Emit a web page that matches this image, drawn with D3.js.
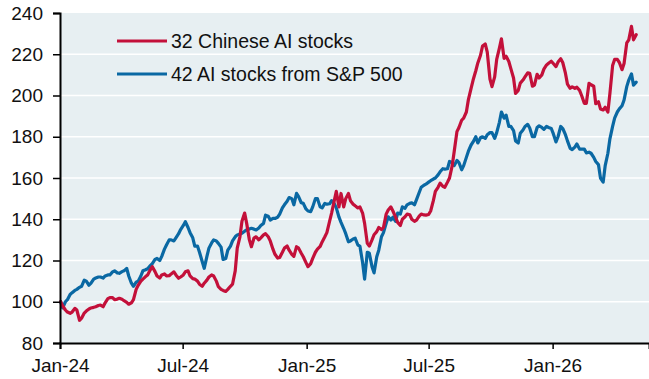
<!DOCTYPE html>
<html>
<head>
<meta charset="utf-8">
<script src="https://cdn.jsdelivr.net/npm/d3@7/dist/d3.min.js"></script>
<style>
  html, body { margin: 0; padding: 0; background: #ffffff; }
  svg { display: block; }
  text { font-family: "Liberation Sans", Arial, sans-serif; fill: #111; }
</style>
</head>
<body>
<svg id="chart" width="649" height="379"></svg>
<script>
// Twice-weekly closes (Tuesdays and Fridays), indexed to 100 on 2 Jan 2024
const dates = [
  "2024-01-02","2024-01-05","2024-01-09","2024-01-12","2024-01-16","2024-01-19","2024-01-23","2024-01-26",
  "2024-01-30","2024-02-02","2024-02-06","2024-02-09","2024-02-13","2024-02-16","2024-02-20","2024-02-23",
  "2024-02-27","2024-03-01","2024-03-05","2024-03-08","2024-03-12","2024-03-15","2024-03-19","2024-03-22",
  "2024-03-26","2024-03-29","2024-04-02","2024-04-05","2024-04-09","2024-04-12","2024-04-16","2024-04-19",
  "2024-04-23","2024-04-26","2024-04-30","2024-05-03","2024-05-07","2024-05-10","2024-05-14","2024-05-17",
  "2024-05-21","2024-05-24","2024-05-28","2024-05-31","2024-06-04","2024-06-07","2024-06-11","2024-06-14",
  "2024-06-18","2024-06-21","2024-06-25","2024-06-28","2024-07-02","2024-07-05","2024-07-09","2024-07-12",
  "2024-07-16","2024-07-19","2024-07-23","2024-07-26","2024-07-30","2024-08-02","2024-08-06","2024-08-09",
  "2024-08-13","2024-08-16","2024-08-20","2024-08-23","2024-08-27","2024-08-30","2024-09-03","2024-09-06",
  "2024-09-10","2024-09-13","2024-09-17","2024-09-20","2024-09-24","2024-09-27","2024-10-01","2024-10-04",
  "2024-10-08","2024-10-11","2024-10-15","2024-10-18","2024-10-22","2024-10-25","2024-10-29","2024-11-01",
  "2024-11-05","2024-11-08","2024-11-12","2024-11-15","2024-11-19","2024-11-22","2024-11-26","2024-11-29",
  "2024-12-03","2024-12-06","2024-12-10","2024-12-13","2024-12-17","2024-12-20","2024-12-24","2024-12-27",
  "2024-12-31","2025-01-03","2025-01-07","2025-01-10","2025-01-14","2025-01-17","2025-01-21","2025-01-24",
  "2025-01-28","2025-01-31","2025-02-04","2025-02-07","2025-02-11","2025-02-14","2025-02-18","2025-02-21",
  "2025-02-25","2025-02-28","2025-03-04","2025-03-07","2025-03-11","2025-03-14","2025-03-18","2025-03-21",
  "2025-03-25","2025-03-28","2025-04-01","2025-04-04","2025-04-08","2025-04-11","2025-04-15","2025-04-18",
  "2025-04-22","2025-04-25","2025-04-29","2025-05-02","2025-05-06","2025-05-09","2025-05-13","2025-05-16",
  "2025-05-20","2025-05-23","2025-05-27","2025-05-30","2025-06-03","2025-06-06","2025-06-10","2025-06-13",
  "2025-06-17","2025-06-20","2025-06-24","2025-06-27","2025-07-01","2025-07-04","2025-07-08","2025-07-11",
  "2025-07-15","2025-07-18","2025-07-22","2025-07-25","2025-07-29","2025-08-01","2025-08-05","2025-08-08",
  "2025-08-12","2025-08-15","2025-08-19","2025-08-22","2025-08-26","2025-08-29","2025-09-02","2025-09-05",
  "2025-09-09","2025-09-12","2025-09-16","2025-09-19","2025-09-23","2025-09-26","2025-09-30","2025-10-03",
  "2025-10-07","2025-10-10","2025-10-14","2025-10-17","2025-10-21","2025-10-24","2025-10-28","2025-10-31",
  "2025-11-04","2025-11-07","2025-11-11","2025-11-14","2025-11-18","2025-11-21","2025-11-25","2025-11-28",
  "2025-12-02","2025-12-05","2025-12-09","2025-12-12","2025-12-16","2025-12-19","2025-12-23","2025-12-26",
  "2025-12-30","2026-01-02","2026-01-06","2026-01-09","2026-01-13","2026-01-16","2026-01-20","2026-01-23",
  "2026-01-27","2026-01-30","2026-02-03","2026-02-06","2026-02-10","2026-02-13","2026-02-17","2026-02-20",
  "2026-02-24","2026-02-27","2026-03-03","2026-03-06","2026-03-10","2026-03-13","2026-03-17","2026-03-20",
  "2026-03-24","2026-03-27","2026-03-31","2026-04-03","2026-04-07","2026-04-10","2026-04-14","2026-04-17",
  "2026-04-21","2026-04-24","2026-04-28","2026-05-01","2026-05-05"
];

const chinaAI = [
  100, 98, 96, 95, 94.4, 95, 96.8, 96,
  91, 92, 94.5, 95.5, 96.5, 97, 97.3, 97.6,
  98.2, 98.4, 97.6, 99.5, 101.5, 102, 102, 101,
  101.3, 101.7, 101.2, 100.5, 99.7, 98.8, 99.5, 101,
  106, 108, 110, 111, 112.2, 113, 115.5, 117,
  114.6, 112.5, 111.5, 113, 113.5, 112.5, 112.6, 113.5,
  114.5, 113, 111.4, 112, 113, 114.5, 115, 112.5,
  111.2, 111, 110, 108.5, 107.5, 109, 110.5, 112,
  113, 112.5, 110, 107.3, 106, 105.5, 105, 106,
  107.5, 108.5, 115, 126, 131.5, 139, 143, 138,
  130, 126.7, 131, 131.5, 130, 131, 132.4, 133,
  131.5, 129.5, 125.5, 123, 121.2, 121.5, 124, 126,
  127, 125, 123, 122, 126.7, 126, 123.5, 121.8,
  119, 117, 118.5, 121, 124, 125.5, 126.8, 129,
  131.5, 133.5, 139, 143, 149, 153.5, 146, 152.5,
  146, 150, 152.5, 149, 147.3, 146.5, 145.5, 146,
  143, 138, 128.3, 127, 130, 132.5, 134, 136,
  135, 136, 142.5, 144.5, 146, 144, 141, 138.5,
  137, 140, 141.2, 142.5, 142.2, 140, 139, 139.6,
  141.5, 142.5, 142.1, 142, 142.3, 144, 149, 153.5,
  155.5, 157.5, 156, 155.5, 158, 160, 166, 173,
  182.5, 184.5, 188, 189, 192, 198, 203.5, 207.5,
  212, 215.8, 219.5, 224, 225, 221, 208, 204.3,
  209, 217.5, 223, 227.5, 218, 219, 216.5, 213,
  208.5, 201, 202.5, 206, 207.5, 209, 211, 210.8,
  204.5, 205, 210.3, 208.5, 210, 212.8, 214.8, 215.6,
  216.6, 215.5, 214, 216.2, 217.8, 216, 210.8, 205.5,
  203.5, 204.2, 203.5, 204, 202.5, 200, 196.2, 196.2,
  205.9, 205.2, 204.5, 196, 197, 193.5, 193, 194.3,
  192, 201, 214.5, 217.5, 217.5, 216, 212.5, 215.5,
  225.5, 227, 233.5, 227, 229.5
];

const spAI = [
  100, 97, 100, 101, 103.5, 104.4, 105.5, 106,
  107, 107.5, 110.5, 110, 108, 109, 111, 111.5,
  112, 112, 111.5, 112.5, 113, 113, 114.5, 115,
  114, 113.8, 114.6, 115, 116.2, 112.5, 109, 107.5,
  109.5, 110, 112.5, 115, 115.5, 116, 117.5, 118.5,
  120.5, 121, 120, 122, 125.5, 127.5, 130, 130,
  129.5, 131, 133, 135, 137, 138.8, 136, 133.5,
  131, 127, 127, 124, 119.5, 116.2, 122, 126,
  128.5, 130, 129.5, 128.3, 126.5, 120.5, 121, 125,
  127, 129.5, 131.5, 132.4, 132.8, 133.2, 134.2, 134.8,
  135.3, 135.6, 135.2, 134.8, 135.8, 137, 138, 142,
  141.5, 139.6, 140.4, 140.4, 141, 142.5, 145.5, 147,
  148.7, 150.5, 150, 147, 152.6, 151, 148, 147.7,
  145, 144, 143.7, 146, 150, 150, 146, 145.5,
  147.7, 147.3, 147.5, 149, 147.5, 145.5, 141, 138.5,
  135.5, 133, 129.1, 129.5, 130.4, 130.8, 127.5, 127,
  119, 111, 124, 123.5, 117, 114, 121.8, 125,
  131.5, 133.5, 138, 141.2, 139.6, 141, 139, 143,
  142.5, 146, 145.3, 147, 147.7, 148, 147, 149.5,
  153, 155.5, 156.5, 157, 158, 158.7, 159.5, 160,
  161.5, 163, 164.5, 164.3, 164.5, 168, 167.5, 166,
  168.5, 167.5, 164, 166, 170, 173, 176, 177.5,
  180, 177, 179.5, 180, 179.2, 181, 182, 182,
  179.2, 182, 187, 192, 189, 190.5, 185, 185,
  183, 178, 177, 181.7, 183.3, 185, 186, 184.2,
  180, 180, 184.5, 185.3, 184.5, 183.6, 185, 184.5,
  184, 181.5, 177.5, 180, 185, 184, 181, 178,
  174.4, 173.8, 175, 176.5, 174, 174, 174, 172.2,
  172.5, 172, 170, 168, 166.5, 160, 158, 166,
  172, 179, 185, 189, 192, 193.5, 195, 197.8,
  204.3, 207.5, 210.5, 205, 206.5
];

const seriesNames = ["32 Chinese AI stocks", "42 AI stocks from S&P 500"];
const seriesColors = ["#c3103a", "#0a68a3"];

const yTicks = [80, 100, 120, 140, 160, 180, 200, 220, 240];
const xTickDates = ["2024-01-01", "2024-07-01", "2025-01-01", "2025-07-01", "2026-01-01"];
const xTickLabels = ["Jan-24", "Jul-24", "Jan-25", "Jul-25", "Jan-26"];

const parse = d3.timeParse("%Y-%m-%d");
const svg = d3.select("#chart");

const plot = { left: 60, right: 649, top: 13, bottom: 343 };

const x = d3.scaleTime()
  .domain([parse("2024-01-01"), parse("2026-05-24")])
  .range([plot.left, plot.right]);

const y = d3.scaleLinear()
  .domain([80, 240])
  .range([plot.bottom, plot.top]);

// plot background
svg.append("rect")
  .attr("x", plot.left).attr("y", plot.top)
  .attr("width", plot.right - plot.left)
  .attr("height", plot.bottom - plot.top)
  .attr("fill", "#e7eff2");

// horizontal gridlines
svg.append("g")
  .selectAll("line")
  .data(yTicks.filter(v => v > 80 && v < 240))
  .join("line")
  .attr("x1", plot.left).attr("x2", plot.right)
  .attr("y1", d => y(d)).attr("y2", d => y(d))
  .attr("stroke", "#ffffff")
  .attr("stroke-width", 1.6);

// series lines
const series = [chinaAI, spAI];
const line = d3.line()
  .x((d, i) => x(parse(dates[i])))
  .y(d => y(d));

// S&P drawn first, Chinese on top where they cross
[1, 0].forEach(k => {
  svg.append("path")
    .datum(series[k])
    .attr("fill", "none")
    .attr("stroke", seriesColors[k])
    .attr("stroke-width", 3.2)
    .attr("stroke-linejoin", "round")
    .attr("stroke-linecap", "round")
    .attr("d", line);
});

// y axis
const yAxis = d3.axisLeft(y)
  .tickValues(yTicks)
  .tickSize(7)
  .tickPadding(10)
  .tickFormat(d3.format("d"));
const gy = svg.append("g")
  .attr("transform", `translate(${plot.left},0)`)
  .call(yAxis);
gy.select(".domain").attr("stroke", "#000").attr("stroke-width", 2);
gy.selectAll(".tick line").attr("stroke", "#000").attr("stroke-width", 1.5);
gy.selectAll(".tick text")
  .style("font-size", "19px")
  .style("font-family", "'Liberation Sans', Arial, sans-serif")
  .attr("fill", "#111");

// x axis
const xAxis = d3.axisBottom(x)
  .tickValues(xTickDates.map(parse))
  .tickSize(6)
  .tickPadding(10)
  .tickFormat((d, i) => xTickLabels[i]);
const gx = svg.append("g")
  .attr("transform", `translate(0,${plot.bottom})`)
  .call(xAxis);
gx.select(".domain").attr("stroke", "#000").attr("stroke-width", 2);
gx.selectAll(".tick line").attr("stroke", "#000").attr("stroke-width", 1.5);
gx.selectAll(".tick text")
  .style("font-size", "19px")
  .style("font-family", "'Liberation Sans', Arial, sans-serif")
  .attr("fill", "#111");

// legend
const legend = svg.append("g");
const legendRows = [0, 1].map(k => ({ name: seriesNames[k], color: seriesColors[k], yPos: 41 + k * 33 }));
legend.selectAll("line")
  .data(legendRows)
  .join("line")
  .attr("x1", 117).attr("x2", 167)
  .attr("y1", d => d.yPos).attr("y2", d => d.yPos)
  .attr("stroke", d => d.color)
  .attr("stroke-width", 3.2);
legend.selectAll("text")
  .data(legendRows)
  .join("text")
  .attr("x", 171)
  .attr("y", d => d.yPos + 6.5)
  .style("font-size", "19.5px")
  .text(d => d.name);
</script>
</body>
</html>
